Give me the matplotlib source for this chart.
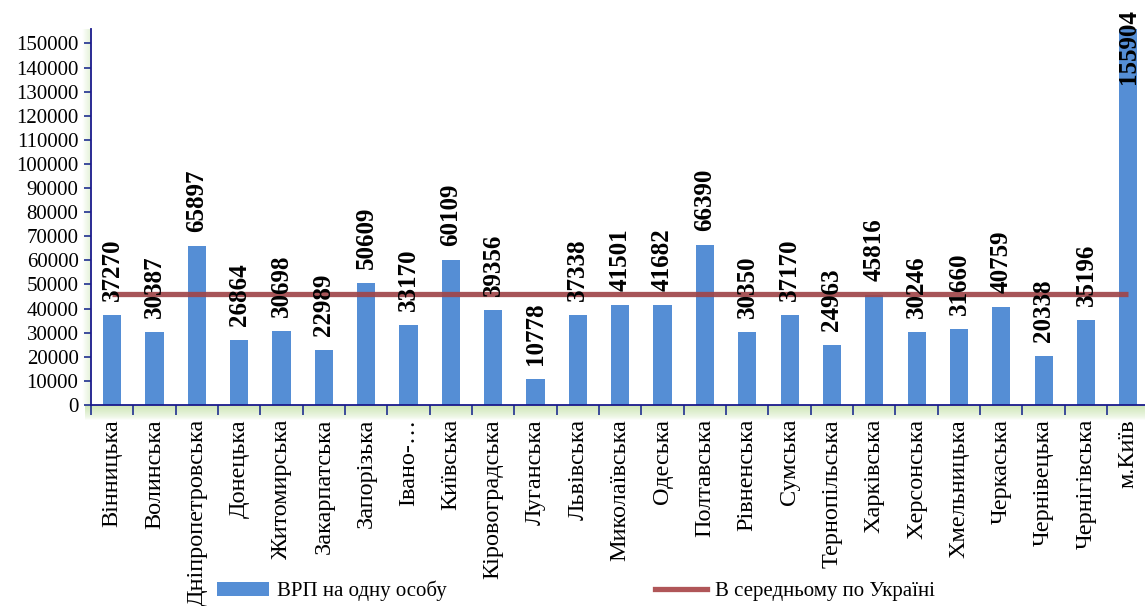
import matplotlib
matplotlib.use("Agg")
import matplotlib.pyplot as plt
import numpy as np
from matplotlib.lines import Line2D
from matplotlib.patches import Patch
from matplotlib.colors import LinearSegmentedColormap

categories = ["Вінницька", "Волинська", "Дніпропетровська", "Донецька", "Житомирська",
              "Закарпатська", "Запорізька", "Івано-…", "Київська", "Кіровоградська",
              "Луганська", "Львівська", "Миколаївська", "Одеська", "Полтавська",
              "Рівненська", "Сумська", "Тернопільська", "Харківська", "Херсонська",
              "Хмельницька", "Черкаська", "Чернівецька", "Чернігівська", "м.Київ"]
grp_per_capita = [37270, 30387, 65897, 26864, 30698, 22989, 50609, 33170, 60109, 39356,
                  10778, 37338, 41501, 41682, 66390, 30350, 37170, 24963, 45816, 30246,
                  31660, 40759, 20338, 35196, 155904]
ukraine_avg = 46100
yticks = list(range(0, 150001, 10000))

plt.rcParams['font.family'] = ['Liberation Serif', 'DejaVu Serif']

W, H = 1145, 606
fig = plt.figure(figsize=(W / 100, H / 100), dpi=100)

ax_left, ax_bottom, ax_right, ax_top = 91, 405, 1149.5, 29
cmap = LinearSegmentedColormap.from_list("g", ["#ffffff", "#cfe7b8"])
# green glow under the axis
gax = fig.add_axes([(ax_left - 6) / W, (H - 420) / H, (W - ax_left + 6) / W, 15 / H], zorder=0)
grad = np.linspace(0, 1, 50) ** 0.7
gax.imshow(grad.reshape(-1, 1), aspect='auto', cmap=cmap, vmin=0, vmax=1,
           extent=[0, 1, 0, 1], origin='lower')
gax.axis('off')
gax2 = fig.add_axes([(ax_left - 9) / W, (H - 405) / H, 9 / W, (405 - ax_top) / H], zorder=0)
gax2.imshow(np.linspace(0, 1, 20).reshape(1, -1), aspect='auto', cmap=cmap, vmin=0, vmax=1.8)
gax2.axis('off')

ax = fig.add_axes([ax_left / W, (H - ax_bottom) / H, (ax_right - ax_left) / W,
                   (ax_bottom - ax_top) / H], zorder=2)
ax.patch.set_alpha(0)
x = np.arange(len(categories))
bars = ax.bar(x, grp_per_capita, width=0.43, color='#558ed5', zorder=2)
ax.plot(x, [ukraine_avg] * len(x), color='#a0464a', lw=3.8, alpha=0.92, zorder=3,
        solid_capstyle='butt')

ax.set_xlim(-0.5, len(x) - 0.5)
ax.set_ylim(0, 156000)
ax.set_yticks(yticks)
ax.set_yticklabels([str(t) for t in yticks], fontsize=15)
ax.set_xticks(x)
ax.set_xticklabels(categories, rotation=90, fontsize=17.5, va='top')
ax.tick_params(axis='x', which='major', length=0, pad=10)
ax.set_xticks(np.arange(-0.5, len(x), 1), minor=True)
ax.tick_params(axis='x', which='minor', length=7, color='#1f2f8f', width=1.2)
ax.tick_params(axis='y', length=5, color='#1f2f8f', width=1.2, pad=4)
for s in ['top', 'right']:
    ax.spines[s].set_visible(False)
for s in ['left', 'bottom']:
    ax.spines[s].set_color('#1a1a8c')
    ax.spines[s].set_linewidth(1.3)

ymax = ax.get_ylim()[1]
for xi, v in zip(x, grp_per_capita):
    if v < ymax * 0.9:
        ax.annotate(str(v), (xi, v), xytext=(0, 14), textcoords='offset pixels',
                    rotation=90, ha='center', va='bottom', fontsize=18,
                    fontweight='bold', zorder=4)
    else:
        ax.annotate(str(v), (xi, v), xytext=(0, 20), textcoords='offset pixels',
                    rotation=90, ha='center', va='top', fontsize=18,
                    fontweight='bold', zorder=4, annotation_clip=False)

handles = [Patch(facecolor='#558ed5', edgecolor='none'),
           Line2D([0], [0], color='#b05658', lw=3.8)]
fig.legend(handles, ['ВРП на одну особу', 'В середньому по Україні'], ncol=2,
           loc='center', bbox_to_anchor=(0.503, 1 - 591 / H), frameon=False,
           fontsize=15, handlelength=2.5, handleheight=0.7, columnspacing=10,
           handletextpad=0.4)

fig.savefig('out.png', dpi=100)
